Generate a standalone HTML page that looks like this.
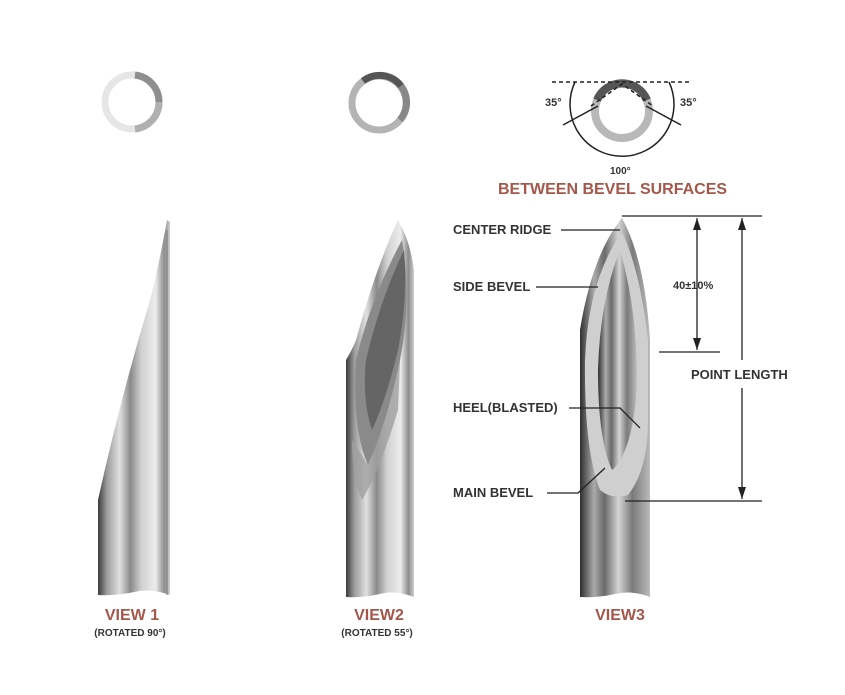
<!DOCTYPE html>
<html><head><meta charset="utf-8"><style>
html,body{margin:0;padding:0;background:#fff;}
svg{display:block;}
text{font-family:"Liberation Sans",sans-serif;font-weight:bold;}
</style></head><body>
<svg width="845" height="695" viewBox="0 0 845 695" xmlns="http://www.w3.org/2000/svg">
<defs>
<linearGradient id="m" x1="0" x2="1" y1="0" y2="0">
<stop offset="0" stop-color="#3a3a3a"/><stop offset="0.12" stop-color="#9a9a9a"/><stop offset="0.3" stop-color="#e0e0e0"/><stop offset="0.45" stop-color="#8a8a8a"/><stop offset="0.6" stop-color="#d0d0d0"/><stop offset="0.8" stop-color="#ececec"/><stop offset="0.92" stop-color="#8c8c8c"/><stop offset="1" stop-color="#cfcfcf"/>
</linearGradient>
<linearGradient id="m2" x1="0" x2="1">
<stop offset="0" stop-color="#2e2e2e"/><stop offset="0.2" stop-color="#aaa"/><stop offset="0.35" stop-color="#6a6a6a"/><stop offset="0.55" stop-color="#d4d4d4"/><stop offset="0.75" stop-color="#7a7a7a"/><stop offset="1" stop-color="#bbb"/>
</linearGradient>
</defs>
<g fill="none" stroke-width="7">
<circle cx="132" cy="102" r="27" stroke="#e6e6e6"/>
<path d="M135 75 A27 27 0 0 1 159 102" stroke="#8e8e8e"/>
<path d="M159 102 A27 27 0 0 1 135 129" stroke="#b0b0b0"/>
<circle cx="379" cy="103" r="27" stroke="#b4b4b4"/>
<path d="M363 81 A27 27 0 0 1 401 86" stroke="#555"/>
<path d="M401 86 A27 27 0 0 1 400 120" stroke="#888"/>
<circle cx="622" cy="111" r="27" stroke="#b8b8b8" stroke-width="8"/>
<path d="M597 100 A27 27 0 0 1 647 100" stroke="#555" stroke-width="8"/>
</g>
<g fill="none" stroke="#222" stroke-width="1.5">
<line x1="552" y1="82" x2="690" y2="82" stroke-dasharray="4,3"/>
<polyline points="591,106 622,84 653,106" stroke-dasharray="4,3"/>
<line x1="563" y1="125" x2="598" y2="106"/>
<line x1="681" y1="125" x2="646" y2="106"/>
<path d="M575 82 A52 52 0 1 0 669 82"/>
</g>
<text x="545" y="106" font-size="11" font-weight="normal" fill="#333">35°</text>
<text x="680" y="106" font-size="11" font-weight="normal" fill="#333">35°</text>
<text x="610" y="174" font-size="10" font-weight="normal" fill="#333">100°</text>
<text x="498" y="194" font-size="16" fill="#a4574a">BETWEEN BEVEL SURFACES</text>
<path d="M167 220 L170 222 L170 595 Q150 588 134 592 Q115 596 98 595 L98 500 Q120 400 150 300 Q160 260 167 220Z" fill="url(#m)"/>
<line x1="167" y1="230" x2="167" y2="595" stroke="#777" stroke-width="1"/>
<path d="M398 220 Q410 240 414 270 L414 597 Q395 590 380 594 Q362 598 346 597 L346 360 Q352 350 356 340 Q375 270 398 220Z" fill="url(#m)"/>
<path d="M402 240 Q412 300 400 360 Q388 420 368 465 Q352 430 356 360 Q370 300 402 240Z" fill="#8a8a8a"/>
<path d="M404 250 Q408 300 398 350 Q386 400 372 430 Q362 400 366 360 Q380 300 404 250Z" fill="#555" opacity="0.7"/>
<path d="M368 465 Q388 420 400 360 L398 410 Q380 470 362 500 Q352 480 352 440Z" fill="#a0a0a0" opacity="0.8"/>
<path d="M622 218 Q645 260 650 340 L650 597 Q632 590 615 594 Q598 598 580 597 L580 330 Q592 255 622 218Z" fill="url(#m2)"/>
<path d="M622 232 Q588 280 585 360 Q584 450 600 490 Q612 500 628 495 Q648 470 648 420 L648 340 Q640 270 622 232Z" fill="#cfcfcf"/>
<path d="M620 250 Q600 300 598 370 Q598 440 612 470 Q630 455 636 400 Q640 320 620 250Z" fill="url(#m2)"/>
<g fill="#333" font-size="13">
<text x="453" y="234">CENTER RIDGE</text>
<text x="453" y="291">SIDE BEVEL</text>
<text x="453" y="412">HEEL(BLASTED)</text>
<text x="453" y="497">MAIN BEVEL</text>
</g>
<g stroke="#222" stroke-width="1.3" fill="none">
<line x1="561" y1="230" x2="620" y2="230"/>
<line x1="536" y1="287" x2="598" y2="287"/>
<polyline points="569,408 620,408 640,428"/>
<polyline points="547,493 578,493 605,468"/>
<line x1="622" y1="216" x2="762" y2="216"/>
<line x1="659" y1="352" x2="720" y2="352"/>
<line x1="625" y1="501" x2="762" y2="501"/>
<line x1="697" y1="218" x2="697" y2="350"/>
<line x1="742" y1="218" x2="742" y2="360"/>
<line x1="742" y1="388" x2="742" y2="499"/>
</g>
<g fill="#222">
<polygon points="697,218 693,230 701,230"/><polygon points="697,350 693,338 701,338"/>
<polygon points="742,218 738,230 746,230"/><polygon points="742,499 738,487 746,487"/>
</g>
<text x="673" y="289" font-size="11" font-weight="normal" fill="#333">40±10%</text>
<text x="691" y="379" font-size="13" fill="#333">POINT LENGTH</text>
<text x="132" y="620" font-size="16" fill="#a4574a" text-anchor="middle">VIEW 1</text>
<text x="130" y="636" font-size="10" fill="#333" text-anchor="middle">(ROTATED 90°)</text>
<text x="379" y="620" font-size="16" fill="#a4574a" text-anchor="middle">VIEW2</text>
<text x="377" y="636" font-size="10" fill="#333" text-anchor="middle">(ROTATED 55°)</text>
<text x="620" y="620" font-size="16" fill="#a4574a" text-anchor="middle">VIEW3</text>
</svg>
</body></html>
